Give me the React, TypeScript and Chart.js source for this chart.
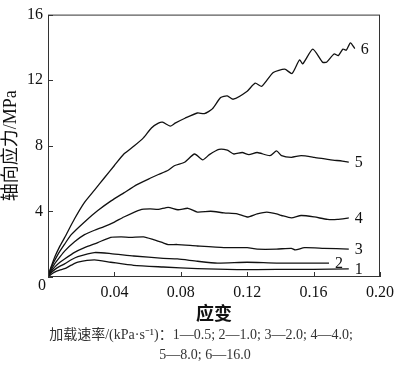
import React, { useEffect, useRef } from 'react';
import { Chart, registerables } from 'chart.js';

Chart.register(...registerables);

// 应变 (strain) and 轴向应力 (axial stress, MPa) for each loading rate curve
const strain1 = [0, 0.002, 0.004, 0.007, 0.010, 0.014, 0.018, 0.0279, 0.0378, 0.0516, 0.0694, 0.090, 0.114, 0.1377, 0.160, 0.1812];
const stress1 = [0, 0.17, 0.30, 0.42, 0.51, 0.72, 0.90, 1.04, 0.90, 0.71, 0.61, 0.51, 0.45, 0.46, 0.47, 0.49];

const strain2 = [0, 0.002, 0.004, 0.007, 0.010, 0.014, 0.018, 0.0279, 0.0378, 0.0516, 0.0694, 0.078, 0.090, 0.102, 0.120, 0.1377, 0.1693];
const stress2 = [0, 0.27, 0.45, 0.65, 0.80, 1.05, 1.24, 1.49, 1.43, 1.28, 1.14, 1.10, 0.96, 0.85, 0.90, 0.85, 0.85];

const strain3 = [0, 0.002, 0.004, 0.007, 0.010, 0.016, 0.022, 0.030, 0.0378, 0.044, 0.0497, 0.0576, 0.0635, 0.0694, 0.0724, 0.078, 0.090, 0.106, 0.120, 0.126, 0.1377, 0.1466, 0.149, 0.1545, 0.1663, 0.1812];
const stress3 = [0, 0.35, 0.60, 0.88, 1.10, 1.50, 1.79, 2.10, 2.42, 2.45, 2.42, 2.45, 2.28, 2.08, 1.98, 1.98, 1.89, 1.79, 1.79, 1.70, 1.70, 1.75, 1.65, 1.79, 1.75, 1.70];

const strain4 = [0, 0.002, 0.004, 0.007, 0.010, 0.016, 0.022, 0.028, 0.0338, 0.040, 0.0457, 0.0556, 0.0615, 0.0665, 0.0724, 0.0783, 0.0843, 0.090, 0.098, 0.106, 0.114, 0.120, 0.126, 0.1318, 0.1377, 0.1407, 0.1466, 0.1525, 0.1604, 0.1684, 0.1743, 0.1812];
const stress4 = [0, 0.45, 0.80, 1.20, 1.58, 2.15, 2.58, 2.85, 3.07, 3.35, 3.66, 4.10, 4.15, 4.12, 4.25, 4.10, 4.19, 3.96, 4.01, 3.91, 3.85, 3.66, 3.85, 3.96, 3.85, 3.75, 3.60, 3.75, 3.66, 3.51, 3.51, 3.60];

const strain5 = [0, 0.002, 0.006, 0.010, 0.014, 0.022, 0.030, 0.038, 0.0457, 0.0536, 0.0615, 0.0665, 0.0724, 0.0764, 0.0823, 0.0883, 0.0932, 0.0972, 0.103, 0.108, 0.112, 0.117, 0.121, 0.126, 0.1337, 0.1377, 0.1407, 0.1466, 0.1525, 0.1604, 0.1703, 0.1773, 0.1812];
const stress5 = [0, 0.60, 1.38, 2.00, 2.58, 3.36, 4.05, 4.64, 5.13, 5.63, 6.02, 6.25, 6.51, 6.80, 7.00, 7.50, 7.14, 7.46, 7.78, 7.73, 7.50, 7.59, 7.46, 7.59, 7.40, 7.69, 7.40, 7.30, 7.40, 7.30, 7.14, 7.07, 7.00];

const strain6 = [0, 0.001, 0.002, 0.004, 0.007, 0.010, 0.016, 0.022, 0.028, 0.034, 0.040, 0.0457, 0.052, 0.0576, 0.0623, 0.0665, 0.069, 0.0736, 0.0766, 0.0825, 0.090, 0.0942, 0.099, 0.104, 0.108, 0.1116, 0.120, 0.1248, 0.1288, 0.1357, 0.1426, 0.147, 0.1515, 0.1535, 0.1595, 0.1654, 0.1678, 0.1723, 0.1749, 0.1777, 0.1797, 0.1822, 0.1848];
const stress6 = [0, 0.35, 0.65, 1.20, 1.85, 2.40, 3.55, 4.55, 5.30, 6.05, 6.80, 7.50, 8.00, 8.50, 9.09, 9.38, 9.44, 9.20, 9.38, 9.68, 10.00, 9.96, 10.25, 10.94, 11.04, 10.84, 11.33, 11.82, 11.63, 12.47, 12.67, 12.41, 13.24, 13.00, 13.89, 13.10, 13.10, 13.60, 13.50, 13.90, 13.83, 14.28, 13.93];

const curveLabels = ['1', '2', '3', '4', '5', '6'];
const xTitle = '应变';
const yTitle = '轴向应力/MPa';
const captionLines = [
  '加载速率/(kPa·s⁻¹)：1—0.5; 2—1.0; 3—2.0; 4—4.0;',
  '5—8.0; 6—16.0',
];

const SERIF = '"Liberation Serif", "Noto Sans CJK SC", serif';

export default function App() {
  const ref = useRef<HTMLCanvasElement>(null);

  useEffect(() => {
    if (!ref.current) return;
    const series: [number[], number[]][] = [
      [strain1, stress1],
      [strain2, stress2],
      [strain3, stress3],
      [strain4, stress4],
      [strain5, stress5],
      [strain6, stress6],
    ];
    const datasets = series.map(([xs, ys], i) => ({
      label: curveLabels[i],
      data: xs.map((x, j) => ({ x, y: ys[j] })),
      borderColor: '#111',
      borderWidth: 1.3,
      pointRadius: 0,
      tension: 0.2,
      fill: false,
    }));

    const decor = {
      id: 'decor',
      afterDraw(chart: any) {
        const { ctx, chartArea: a, scales } = chart;
        const xs = scales.x;
        const ys = scales.y;
        ctx.save();
        // frame
        ctx.strokeStyle = '#333';
        ctx.lineWidth = 1;
        ctx.strokeRect(a.left + 0.5, a.top + 0.5, a.right - a.left - 1, a.bottom - a.top - 1);
        // inward tick marks
        ctx.beginPath();
        xs.ticks.forEach((t: any) => {
          const px = Math.round(xs.getPixelForValue(t.value)) + 0.5;
          ctx.moveTo(px, a.bottom);
          ctx.lineTo(px, a.bottom - 5);
        });
        ys.ticks.forEach((t: any) => {
          const py = Math.round(ys.getPixelForValue(t.value)) + 0.5;
          ctx.moveTo(a.left, py);
          ctx.lineTo(a.left + 5, py);
        });
        ctx.stroke();
        // corner zero label
        ctx.fillStyle = '#111';
        ctx.font = `16px ${SERIF}`;
        ctx.textAlign = 'center';
        ctx.textBaseline = 'middle';
        ctx.fillText('0', xs.getPixelForValue(0) - 6, ys.getPixelForValue(0) + 9);
        // curve labels
        chart.data.datasets.forEach((ds: any, i: number) => {
          const meta = chart.getDatasetMeta(i);
          const last = meta.data[meta.data.length - 1];
          ctx.fillText(ds.label, last.x + 10, last.y + 1);
        });
        // caption
        ctx.fillStyle = '#333';
        ctx.font = `14px ${SERIF}`;
        ctx.fillText(captionLines[0], chart.width / 2 + 1, 335);
        ctx.fillText(captionLines[1], chart.width / 2 + 5, 355);
        ctx.restore();
      },
    };

    const chart = new Chart(ref.current, {
      type: 'line',
      data: { datasets },
      plugins: [decor],
      options: {
        responsive: false,
        animation: false,
        layout: { padding: { top: 6, right: 15, left: 0, bottom: 0 } },
        plugins: {
          legend: { display: false },
          tooltip: { enabled: false },
        },
        scales: {
          x: {
            type: 'linear',
            min: 0,
            max: 0.2,
            grid: { display: false, drawTicks: false },
            border: { display: false },
            ticks: {
              stepSize: 0.04,
              padding: 6,
              autoSkip: false,
              maxRotation: 0,
              color: '#111',
              font: { family: SERIF, size: 16 },
              callback: (v: any) => (Number(v) === 0 ? '' : Number(v).toFixed(2)),
            },
            title: {
              display: true,
              text: xTitle,
              color: '#111',
              font: { family: '"Noto Sans CJK SC"', size: 18, weight: 'bold' },
              padding: { top: 0, bottom: 45 },
            },
            afterFit: (s: any) => {
              s.height = 92;
            },
          },
          y: {
            type: 'linear',
            min: 0,
            max: 16,
            grid: { display: false, drawTicks: false },
            border: { display: false },
            ticks: {
              stepSize: 4,
              padding: 5,
              color: '#111',
              font: { family: SERIF, size: 16 },
              callback: (v: any) => (Number(v) === 0 ? '' : String(v)),
            },
            title: {
              display: true,
              text: yTitle,
              color: '#111',
              font: { family: SERIF, size: 18 },
              padding: { top: 0, bottom: 0 },
            },
            afterFit: (s: any) => {
              s.width = 48;
            },
          },
        },
      },
    });
    return () => chart.destroy();
  }, []);

  return (
    <div style={{ position: 'absolute', left: 0, top: 0, width: 400, height: 369, background: '#fff' }}>
      <canvas ref={ref} width={400} height={369} style={{ display: 'block' }} />
    </div>
  );
}
